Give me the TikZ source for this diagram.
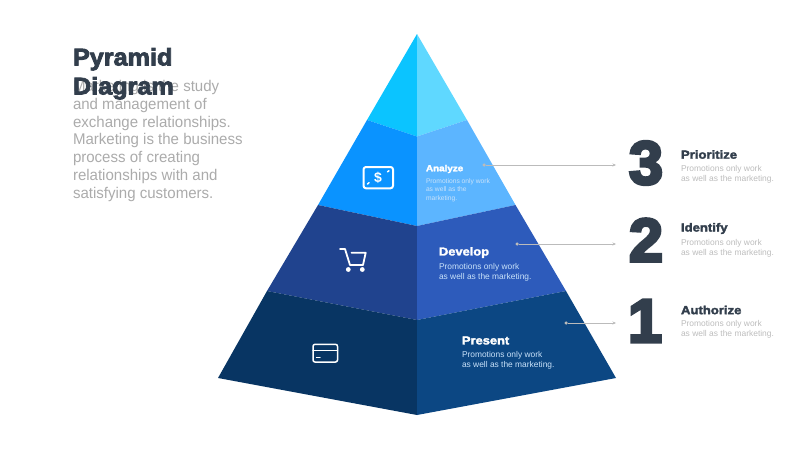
\documentclass[tikz,border=0pt]{standalone}
\usepackage{fontspec}
\usetikzlibrary{arrows.meta}
\setmainfont{Liberation Sans}
\newfontfamily\heavyfont[FakeBold=2.5,FakeStretch=1.12]{Liberation Sans Bold}
\newfontfamily\titlefont[FakeBold=3.5,FakeStretch=1.05]{Liberation Sans Bold}
\newfontfamily\numfont[FakeBold=5]{Liberation Sans Bold}
\newfontfamily\leadfont[FakeStretch=0.97]{Liberation Sans}
\definecolor{inkdark}{HTML}{323E4C}
\definecolor{bodygray}{HTML}{ABABAB}
\definecolor{linegray}{HTML}{BBBBBB}
\definecolor{paleblue}{HTML}{C9E2FA}
\begin{document}
\begin{tikzpicture}[x=1pt, y=-1pt,
    every node/.style={inner sep=0pt,outer sep=0pt},
    titletext/.style={anchor=north west,align=left,text=inkdark,font=\titlefont\fontsize{24}{29}\selectfont},
    leadtext/.style={anchor=north west,align=left,text=bodygray,font=\leadfont\fontsize{15.5}{17.9}\selectfont},
    bignum/.style={text=inkdark,font=\numfont\fontsize{61}{61}\selectfont},
    headdark/.style={anchor=west,text=inkdark,font=\heavyfont\fontsize{11.7}{12}\selectfont},
    subdark/.style={anchor=north west,align=left,text=bodygray!80,font=\fontsize{8.45}{10}\selectfont},
    headwhite/.style={anchor=west,text=white,font=\heavyfont\fontsize{11.5}{12}\selectfont},
    subwhite/.style={anchor=north west,align=left,text=paleblue,font=\fontsize{8.4}{10}\selectfont},
    leader/.style={draw=linegray,line width=1pt,-{Stealth[length=3.5pt,width=3pt]}},
    leaddot/.style={circle,fill=linegray,minimum size=3.5pt},
    icon/.style={draw=white,line width=1.5pt,line join=round,line cap=round}]
    \useasboundingbox (0,0) rectangle (800,450);

    %––––– corners of the faces –––––
    \coordinate (a1) at (417,34);
    \coordinate (b1) at (367,120);
    \coordinate (b2) at (417,136.5);
    \coordinate (b3) at (467,120);
    \coordinate (c1) at (318,205);
    \coordinate (c2) at (417,226);
    \coordinate (c3) at (515.5,205);
    \coordinate (d1) at (267,291);
    \coordinate (d2) at (417,320);
    \coordinate (d3) at (566,291);
    \coordinate (e1) at (218,378);
    \coordinate (e2) at (417,415);
    \coordinate (e3) at (616,378);

    %––––– tier 4 (top) –––––
    \fill[fill={rgb,255:red,11;green,196;blue,255}] (a1) -- (b1) -- (b2) -- cycle;
    \fill[fill={rgb,255:red,95;green,216;blue,255}] (a1) -- (b2) -- (b3) -- cycle;

    %––––– tier 3 –––––
    \fill[fill={rgb,255:red,10;green,147;blue,255}] (b1) -- (c1) -- (c2) -- (b2) -- cycle;
    \fill[fill={rgb,255:red,92;green,181;blue,255}] (b2) -- (c2) -- (c3) -- (b3) -- cycle;

    %––––– tier 2 –––––
    \fill[fill={rgb,255:red,32;green,67;blue,142}] (c1) -- (d1) -- (d2) -- (c2) -- cycle;
    \fill[fill={rgb,255:red,45;green,91;blue,187}] (c2) -- (d2) -- (d3) -- (c3) -- cycle;

    %––––– tier 1 (bottom) –––––
    \fill[fill={rgb,255:red,8;green,53;blue,99}] (d1) -- (e1) -- (e2) -- (d2) -- cycle;
    \fill[fill={rgb,255:red,12;green,71;blue,131}] (d2) -- (e2) -- (e3) -- (d3) -- cycle;

    %––––– left text –––––
    \node (lead) at (73,80) [leadtext] {Marketing is the study\\and management of\\exchange relationships.\\Marketing is the business\\process of creating\\relationships with and\\satisfying customers.};
    \node (title) at (73,48) [titletext] {Pyramid\\Diagram};

    %––––– text on the faces –––––
    \node (analyze) at (426,169) [headwhite,font=\heavyfont\fontsize{8.8}{10}\selectfont] {Analyze};
    \node (analyzesub) at (426,178.5) [subwhite,font=\fontsize{6.7}{8.5}\selectfont] {Promotions only work\\as well as the\\marketing.};
    \node (develop) at (439,252.5) [headwhite] {Develop};
    \node (developsub) at (439,263.5) [subwhite] {Promotions only work\\as well as the marketing.};
    \node (present) at (462,340.5) [headwhite] {Present};
    \node (presentsub) at (462,351.5) [subwhite] {Promotions only work\\as well as the marketing.};

    %––––– leaders –––––
    \node (dot3) at (484,165) [leaddot] {};
    \coordinate (end3) at (616,165);
    \draw[leader] (dot3) -- (end3);

    \node (dot2) at (517,244) [leaddot] {};
    \coordinate (end2) at (616,244);
    \draw[leader] (dot2) -- (end2);

    \node (dot1) at (566,323) [leaddot] {};
    \coordinate (end1) at (616,323);
    \draw[leader] (dot1) -- (end1);

    %––––– numbers and right text –––––
    \node (num3) at (646,163) [bignum] {3};
    \node (prioritize) at (681,154.5) [headdark] {Prioritize};
    \node (prioritizesub) at (681,165.5) [subdark] {Promotions only work\\as well as the marketing.};

    \node (num2) at (646,240) [bignum] {2};
    \node (identify) at (681,228.5) [headdark] {Identify};
    \node (identifysub) at (681,239) [subdark] {Promotions only work\\as well as the marketing.};

    \node (num1) at (645,321) [bignum] {1};
    \node (authorize) at (681,310) [headdark] {Authorize};
    \node (authorizesub) at (681,320.5) [subdark] {Promotions only work\\as well as the marketing.};

    %––––– icons –––––
    \draw[icon,line width=2pt,rounded corners=2.5pt] (363.5,167) rectangle (393,188.3);
    \node (dollar) at (378,177.5) [text=white,font=\bfseries\fontsize{14}{14}\selectfont] {\$};
    \draw[icon] (387.5,171.8) -- (389,170.8);
    \draw[icon] (367.5,184) -- (369,182.7);

    \draw[icon,line width=1.8pt] (340,249) -- (345,249) -- (350,265) -- (363,265) -- (365.7,252.7) -- (351.5,252.7);
    \fill[white] (348.3,269.5) circle (2.4);
    \fill[white] (362.3,269.5) circle (2.4);

    \draw[icon,rounded corners=2pt] (313,344.3) rectangle (337.5,362);
    \draw[icon] (313,350.7) -- (337.5,350.7);
    \draw[icon] (316.5,357.3) -- (320,357.3);
  \end{tikzpicture}
\end{document}
